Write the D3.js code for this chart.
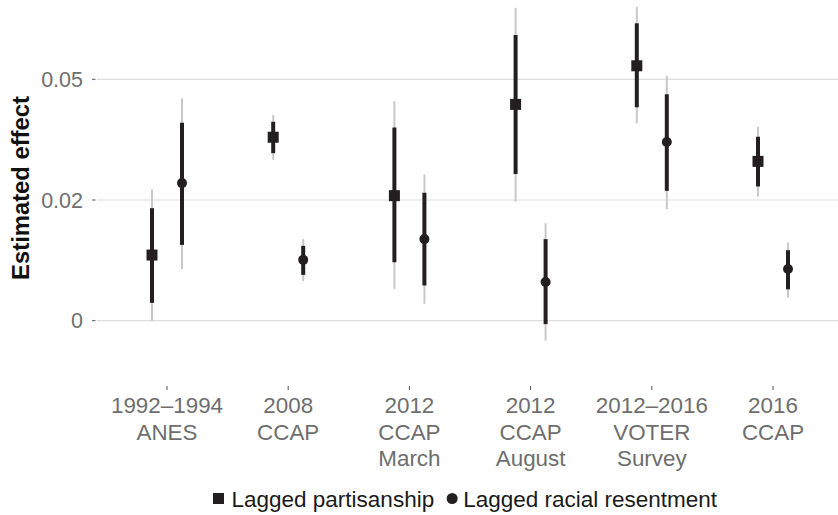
<!DOCTYPE html>
<html>
<head>
<meta charset="utf-8">
<script src="https://cdn.jsdelivr.net/npm/d3@7"></script>
<style>
  body { margin: 0; background: #fff; }
  svg { display: block; font-family: "Liberation Sans", Arial, sans-serif; }
</style>
</head>
<body>
<div id="chart"></div>
<script>
const width = 838
    , height = 515
    , ink = '#231f20'
    , gridColor = '#dedede'
    , textGray = '#6e6e6e'
    ;

// survey waves (label lines)
const categories = [
  ['1992\u20131994', 'ANES'],
  ['2008', 'CCAP'],
  ['2012', 'CCAP', 'March'],
  ['2012', 'CCAP', 'August'],
  ['2012\u20132016', 'VOTER', 'Survey'],
  ['2016', 'CCAP']
];
const seriesNames = ['Lagged partisanship', 'Lagged racial resentment'];

// point estimates
const partisanEst   = [0.0136, 0.0380, 0.0259, 0.0448, 0.0528, 0.0330];
const resentEst     = [0.0285, 0.0126, 0.0169, 0.0080, 0.0370, 0.0107];
// inner (thick) intervals
const partisanInner = [[0.0037, 0.0233], [0.0347, 0.0412], [0.0121, 0.0400], [0.0304, 0.0592], [0.0442, 0.0616], [0.0278, 0.0381]];
const resentInner   = [[0.0157, 0.0410], [0.0095, 0.0155], [0.0073, 0.0265], [-0.0007, 0.0169], [0.0269, 0.0469], [0.0065, 0.0146]];
// outer (thin) intervals
const partisanOuter = [[0.0000, 0.0272], [0.0333, 0.0426], [0.0066, 0.0455], [0.0247, 0.0648], [0.0409, 0.0650], [0.0257, 0.0401]];
const resentOuter   = [[0.0107, 0.0461], [0.0082, 0.0169], [0.0035, 0.0303], [-0.0041, 0.0202], [0.0231, 0.0507], [0.0048, 0.0162]];

const yTicks = [0, 0.025, 0.05];
const yTickLabels = ['0', '0.02', '0.05'];

const rows = [];
categories.forEach((c, i) => {
  rows.push({ cat: i, s: 0, est: partisanEst[i], inner: partisanInner[i], outer: partisanOuter[i] });
  rows.push({ cat: i, s: 1, est: resentEst[i], inner: resentInner[i], outer: resentOuter[i] });
});

const x = d3.scalePoint()
  .domain(d3.range(categories.length))
  .range([167, 773]);
const dodge = d3.scalePoint().domain([0, 1]).range([-15, 15]);
const y = d3.scaleLinear()
  .domain([0, 0.05])
  .range([320.7, 79.3]);

const svg = d3.select('#chart')
  .append('svg')
  .attr('width', width)
  .attr('height', height);

// grid + y ticks
const yAxis = svg.append('g');
yAxis.selectAll('line.grid')
  .data(yTicks)
  .join('line')
    .attr('class', 'grid')
    .attr('x1', 97).attr('x2', width)
    .attr('y1', d => y(d)).attr('y2', d => y(d))
    .attr('stroke', gridColor)
    .attr('stroke-width', 1.2);
yAxis.selectAll('line.tick')
  .data(yTicks)
  .join('line')
    .attr('class', 'tick')
    .attr('x1', 92).attr('x2', 95.5)
    .attr('y1', d => y(d)).attr('y2', d => y(d))
    .attr('stroke', '#555')
    .attr('stroke-width', 1);
yAxis.selectAll('text')
  .data(yTicks)
  .join('text')
    .attr('x', 83)
    .attr('y', d => y(d))
    .attr('dy', '0.36em')
    .attr('text-anchor', 'end')
    .attr('fill', textGray)
    .style('font-size', '21.5px')
    .text((d, i) => yTickLabels[i]);

svg.append('text')
  .attr('transform', 'translate(29,188) rotate(-90)')
  .attr('text-anchor', 'middle')
  .attr('fill', '#111')
  .style('font-size', '23.8px')
  .style('font-weight', 'bold')
  .text('Estimated effect');

// x ticks and labels
const xAxis = svg.append('g');
xAxis.selectAll('line')
  .data(categories)
  .join('line')
    .attr('x1', (d, i) => x(i)).attr('x2', (d, i) => x(i))
    .attr('y1', 386).attr('y2', 390)
    .attr('stroke', '#555')
    .attr('stroke-width', 1);
xAxis.selectAll('text')
  .data(categories)
  .join('text')
    .attr('text-anchor', 'middle')
    .attr('fill', textGray)
    .style('font-size', '22.4px')
    .attr('transform', (d, i) => `translate(${x(i)},413)`)
    .selectAll('tspan')
    .data(d => d)
    .join('tspan')
      .attr('x', 0)
      .attr('y', (d, j) => j * 26.5)
      .text(d => d);

// intervals and points
const marks = svg.append('g');
const px = d => x(d.cat) + dodge(d.s);
marks.selectAll('line.outer')
  .data(rows)
  .join('line')
    .attr('class', 'outer')
    .attr('x1', px).attr('x2', px)
    .attr('y1', d => y(d.outer[0])).attr('y2', d => y(d.outer[1]))
    .attr('stroke', '#c8c8c8')
    .attr('stroke-width', 2);
marks.selectAll('line.inner')
  .data(rows)
  .join('line')
    .attr('class', 'inner')
    .attr('x1', px).attr('x2', px)
    .attr('y1', d => y(d.inner[0])).attr('y2', d => y(d.inner[1]))
    .attr('stroke', ink)
    .attr('stroke-width', 4);
marks.selectAll('rect')
  .data(rows.filter(d => d.s === 0))
  .join('rect')
    .attr('x', d => px(d) - 5.5)
    .attr('y', d => y(d.est) - 5.5)
    .attr('width', 11).attr('height', 11)
    .attr('fill', ink);
marks.selectAll('circle')
  .data(rows.filter(d => d.s === 1))
  .join('circle')
    .attr('cx', px)
    .attr('cy', d => y(d.est))
    .attr('r', 5)
    .attr('fill', ink);

// legend
const legend = svg.append('g').attr('transform', 'translate(0,498.5)');
legend.append('rect')
  .attr('x', 213).attr('y', -5.5).attr('width', 11).attr('height', 11)
  .attr('fill', ink);
const t1 = legend.append('text')
  .attr('x', 231.5)
  .attr('y', 0)
  .attr('dy', '0.36em')
  .attr('fill', '#1a1a1a')
  .style('font-size', '22.5px')
  .text(seriesNames[0]);
const end1 = 231.5 + t1.node().getComputedTextLength();
legend.append('circle')
  .attr('cx', end1 + 18).attr('cy', 0).attr('r', 5.5)
  .attr('fill', ink);
legend.append('text')
  .attr('x', end1 + 29)
  .attr('y', 0)
  .attr('dy', '0.36em')
  .attr('fill', '#1a1a1a')
  .style('font-size', '22.5px')
  .text(seriesNames[1]);
</script>
</body>
</html>
